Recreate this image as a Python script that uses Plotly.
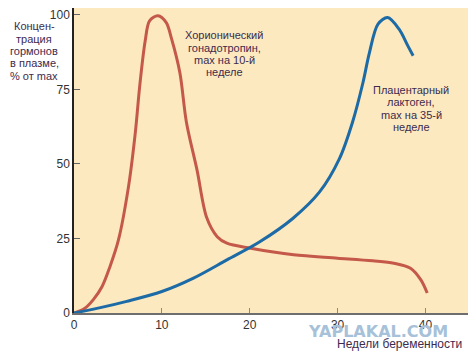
import plotly.graph_objects as go

# Data (weeks of pregnancy, % of max)
hcg_weeks = [0, 1.2, 2.2, 3.2, 4.1, 5.06, 6.2, 6.96, 7.5, 8.1, 8.6, 9.55, 10.5, 11.1, 12.05, 12.8, 14.0, 15.1, 16.3, 17.4, 20.1, 25, 30, 34, 36.4, 38.3, 39.5, 40.2]
hcg_vals = [0, 1.5, 4.5, 8.9, 15.6, 24.5, 42.3, 60, 76.7, 91.2, 98, 99.7, 97.4, 92, 80.6, 63.9, 48, 32, 25.6, 23.4, 21.7, 19.5, 18.4, 17.5, 16.7, 15, 11, 6.7]

hpl_weeks = [0, 3, 6, 10, 13.6, 17.4, 21.1, 24.9, 27.95, 30.2, 31.7, 32.9, 33.6, 34.6, 35.7, 37.0, 38.0, 38.6]
hpl_vals = [0, 1.8, 3.9, 7.2, 11.7, 17.8, 23.8, 31.7, 40.6, 51.7, 64, 77.4, 87, 96.9, 99.1, 95.2, 89.6, 86.3]

x_ticks = [0, 10, 20, 30, 40]
y_ticks = [0, 25, 50, 75, 100]

y_title_lines = ["Концен-", "трация", "гормонов", "в плазме,", "% от max"]
hcg_label_lines = ["Хорионический", "гонадотропин,", "max на 10-й", "неделе"]
hpl_label_lines = ["Плацентарный", "лактоген,", "max на 35-й", "неделе"]

txt_col = "#3d2b4e"
font_family = "Liberation Sans, Arial, sans-serif"

# page-pixel geometry of the plot area (the page has an 8px body margin)
PL, PR, PT, PB = 74, 472, 7, 313
FIG_W, FIG_H = 468, 354


def px2paper(px, py):
    return (px - PL) / (PR - PL), (PB - py) / (PB - PT)


fig = go.Figure()
fig.add_trace(go.Scatter(x=hcg_weeks, y=hcg_vals, mode="lines",
                         line=dict(color="#c4594a", width=3, shape="spline", smoothing=0.9),
                         cliponaxis=False, showlegend=False))
fig.add_trace(go.Scatter(x=hpl_weeks, y=hpl_vals, mode="lines",
                         line=dict(color="#1c6aa6", width=3, shape="spline", smoothing=0.9),
                         cliponaxis=False, showlegend=False))

fig.update_layout(
    width=FIG_W, height=FIG_H,
    margin=dict(l=PL - 8, r=FIG_W - (PR - 8), t=0, b=FIG_H - (PB - 8)),
    paper_bgcolor="white",
    plot_bgcolor="#fce9bf",
    font=dict(family=font_family, size=12, color=txt_col),
    xaxis=dict(range=[0, 45.3], tickvals=x_ticks, ticks="inside", ticklen=5,
               tickcolor="#8a8a8a", showgrid=False, zeroline=False,
               showline=True, linecolor="#6e6e6e", linewidth=2, automargin=False,
               tickfont=dict(size=12, color="#333")),
    yaxis=dict(range=[0, 102.3], tickvals=y_ticks, ticks="inside", ticklen=6,
               tickcolor="#666", showgrid=False, zeroline=False,
               showline=True, linecolor="#222", linewidth=1.5, automargin=False,
               tickfont=dict(size=12, color="#333")),
)


def add_lines(lines, cx, cy, step=12.4, size=11):
    n = len(lines)
    for i, t in enumerate(lines):
        y = cy + (i - (n - 1) / 2) * step
        ax, ay = px2paper(cx, y)
        fig.add_annotation(text=t, xref="paper", yref="paper", x=ax, y=ay,
                           xanchor="center", yanchor="middle", showarrow=False,
                           font=dict(size=size, color=txt_col))


add_lines(y_title_lines, 34, 50)
add_lines(hcg_label_lines, 224, 53)
add_lines(hpl_label_lines, 411, 108)

wx, wy = px2paper(450, 332)
fig.add_annotation(text="<b>YAPLAKAL.COM</b>", xref="paper", yref="paper",
                   x=wx, y=wy, xanchor="right", yanchor="middle", showarrow=False,
                   font=dict(size=16, color="#a6c1d8", family="DejaVu Sans, Verdana, sans-serif"))
nx, ny = px2paper(464, 344)
fig.add_annotation(text="Недели беременности", xref="paper", yref="paper",
                   x=nx, y=ny, xanchor="right", yanchor="middle", showarrow=False,
                   font=dict(size=12, color=txt_col))

fig.write_html("out.html")
